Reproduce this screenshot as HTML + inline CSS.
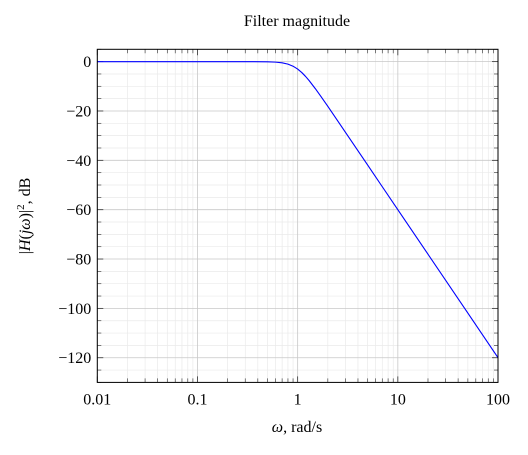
<!DOCTYPE html>
<html><head><meta charset="utf-8"><style>
body{margin:0;background:#fff;}
svg text{font-family:"Liberation Serif",serif;fill:#000;}
</style></head><body>
<svg id="chart" width="528" height="450" xmlns="http://www.w3.org/2000/svg">
<text x="297" y="26" font-size="16" text-anchor="middle">Filter magnitude</text>
<g id="grid"></g>
<g id="ticks"></g>
<g id="series"></g>
<rect x="97.3" y="49.3" width="400.7" height="333.1" fill="none" stroke="#000" stroke-width="1"/>
<text x="297" y="432" font-size="16" text-anchor="middle"><tspan font-style="italic">ω</tspan>, rad/s</text>
<text transform="translate(30,216) rotate(-90)" font-size="16" text-anchor="middle">|<tspan font-style="italic">H</tspan>(<tspan font-style="italic">jω</tspan>)|<tspan font-size="11" dy="-6">2</tspan><tspan dy="6">, dB</tspan></text>
</svg>
<script>
const xTickVals=[0.01,0.1,1,10,100];
const xTickLabels=["0.01","0.1","1","10","100"];
const yTickVals=[0,-20,-40,-60,-80,-100,-120];
const yTickLabels=["0","−20","−40","−60","−80","−100","−120"];
const omega=[0.01,0.1,0.3,0.5,0.6,0.7,0.8,0.9,1,1.1,1.2,1.3,1.5,1.7,2,3,5,10,20,50,100];
const magDb=[0,0,-0.003,-0.07,-0.2,-0.48,-1.01,-1.85,-3.01,-4.43,-6.0,-7.65,-10.93,-14.0,-18.13,-28.63,-41.94,-60,-78.06,-101.9,-120];
const L=97.3,R=498,T=49.3,B=382.4,xmin=-2,xmax=2,ymin=-130,ymax=5;
function sx(v){return L+(Math.log10(v)-xmin)/(xmax-xmin)*(R-L);}
function sy(v){return B-(v-ymin)/(ymax-ymin)*(B-T);}
const NS="http://www.w3.org/2000/svg";
function mk(tag,attrs,parent){const e=document.createElementNS(NS,tag);for(const k in attrs)e.setAttribute(k,attrs[k]);parent.appendChild(e);return e;}
const grid=document.getElementById('grid'),ticks=document.getElementById('ticks'),series=document.getElementById('series');
// minor x
for(let d=-2;d<2;d++){for(let m=2;m<10;m++){const x=sx(m*Math.pow(10,d));
const g=mk('line',{x1:x,x2:x,y1:T,y2:B,stroke:'#eaeaea','stroke-width':0.7},grid);


mk('line',{x1:x,x2:x,y1:T,y2:T+4,stroke:'#444','stroke-width':0.7},ticks);
mk('line',{x1:x,x2:x,y1:B,y2:B-4,stroke:'#444','stroke-width':0.7},ticks);}}
// minor y
for(let v=ymin;v<=ymax;v+=5){if(v%20===0)continue;const y=sy(v);
const g=mk('line',{x1:L,x2:R,y1:y,y2:y,stroke:'#eaeaea','stroke-width':0.7},grid);


mk('line',{x1:L,x2:L+4,y1:y,y2:y,stroke:'#444','stroke-width':0.7},ticks);
mk('line',{x1:R,x2:R-4,y1:y,y2:y,stroke:'#444','stroke-width':0.7},ticks);}
xTickVals.forEach((v,i)=>{const x=sx(v);
const g=mk('line',{x1:x,x2:x,y1:T,y2:B,stroke:'#c8c8c8','stroke-width':0.8},grid);


mk('line',{x1:x,x2:x,y1:T,y2:T+6,stroke:'#333','stroke-width':0.8},ticks);
mk('line',{x1:x,x2:x,y1:B,y2:B-6,stroke:'#333','stroke-width':0.8},ticks);
const t=mk('text',{x:x,y:B+22,'font-size':16,'text-anchor':'middle'},ticks);t.textContent=xTickLabels[i];

});
yTickVals.forEach((v,i)=>{const y=sy(v);
const g=mk('line',{x1:L,x2:R,y1:y,y2:y,stroke:'#c8c8c8','stroke-width':0.8},grid);


mk('line',{x1:L,x2:L+6,y1:y,y2:y,stroke:'#333','stroke-width':0.8},ticks);
mk('line',{x1:R,x2:R-6,y1:y,y2:y,stroke:'#333','stroke-width':0.8},ticks);
const t=mk('text',{x:L-6,y:y+5.5,'font-size':16,'text-anchor':'end'},ticks);t.textContent=yTickLabels[i];

});
const pts=omega.map((w,i)=>sx(w).toFixed(2)+','+sy(magDb[i]).toFixed(2)).join(' ');
const p=mk('polyline',{points:pts,fill:'none',stroke:'#0000ff','stroke-width':1.1,'stroke-linejoin':'round'},series);


</script>
</body></html>
